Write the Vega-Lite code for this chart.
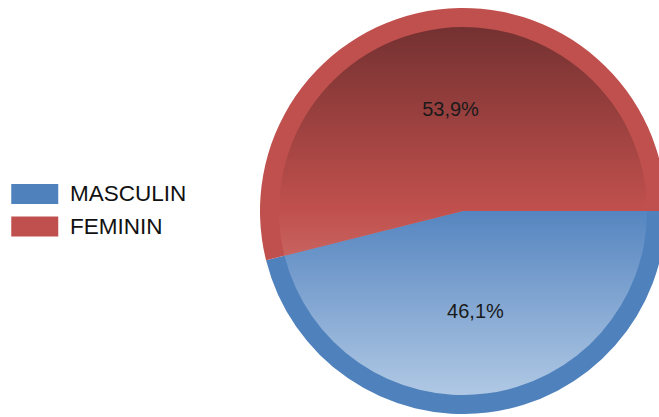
{
  "$schema": "https://vega.github.io/schema/vega-lite/v6.json",
  "width": 406,
  "height": 406,
  "autosize": {"type": "none"},
  "padding": {"left": 260, "top": 8, "right": 0, "bottom": 0},
  "background": "white",
  "data": {
    "values": [
      {"sexe": "MASCULIN", "pct": 46.1, "rang": 1, "etiquette": "46,1%"},
      {"sexe": "FEMININ", "pct": 53.9, "rang": 2, "etiquette": "53,9%"}
    ]
  },
  "encoding": {
    "theta": {"field": "pct", "type": "quantitative", "stack": true, "scale": {"range": [1.5707963, 7.8539816]}},
    "order": {"field": "rang", "type": "quantitative"}
  },
  "layer": [
    {
      "mark": {"type": "arc", "outerRadius": 203},
      "encoding": {
        "color": {
          "field": "sexe",
          "type": "nominal",
          "scale": {"domain": ["MASCULIN", "FEMININ"], "range": ["#4F81BD", "#C0504D"]},
          "legend": {
            "title": null,
            "orient": "none",
            "legendX": -236.5,
            "legendY": 174.75,
            "padding": 0,
            "symbolType": "M-2.35,-1L2.35,-1L2.35,1L-2.35,1Z",
            "symbolSize": 400,
            "symbolStrokeWidth": 0,
            "symbolOpacity": 1,
            "labelFontSize": 22.5,
            "labelFont": "Liberation Sans",
            "labelColor": "#111111",
            "labelOffset": 24,
            "rowPadding": 9.5,
            "labelLimit": 300
          }
        }
      }
    },
    {
      "mark": {"type": "arc", "outerRadius": 184},
      "encoding": {
        "fill": {
          "condition": {
            "test": "datum.sexe === 'MASCULIN'",
            "value": {
              "gradient": "linear", "x1": 0, "y1": 0, "x2": 0, "y2": 1,
              "stops": [{"offset": 0, "color": "#5585c0"}, {"offset": 1, "color": "#b0c8e4"}]
            }
          },
          "value": {
            "gradient": "linear", "x1": 0, "y1": 0, "x2": 0, "y2": 1,
            "stops": [{"offset": 0, "color": "#743131"}, {"offset": 0.8, "color": "#c0504d"}, {"offset": 1, "color": "#c8635f"}]
          }
        }
      }
    },
    {
      "mark": {"type": "text", "radius": 102, "fontSize": 20, "font": "Liberation Sans", "fill": "#1a1a1a"},
      "encoding": {"text": {"field": "etiquette", "type": "nominal"}}
    }
  ]
}
